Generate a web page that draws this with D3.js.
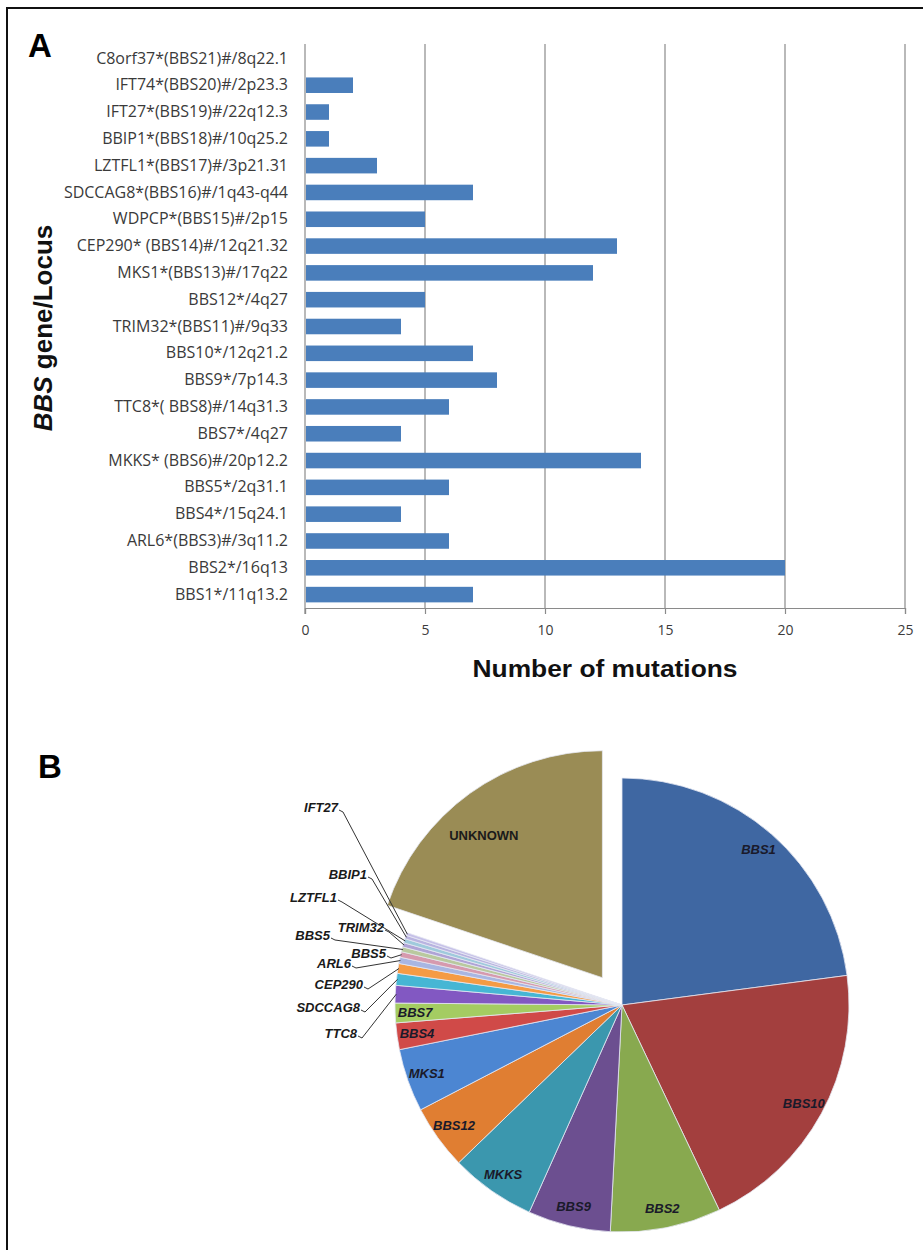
<!DOCTYPE html>
<html><head><meta charset="utf-8">
<script src="https://cdn.jsdelivr.net/npm/d3@7"></script>
<style>body{margin:0;background:#fff}svg{display:block}</style>
</head><body>
<script>
// ---- Panel A data ----
const categories = [
  "C8orf37*(BBS21)#/8q22.1","IFT74*(BBS20)#/2p23.3","IFT27*(BBS19)#/22q12.3",
  "BBIP1*(BBS18)#/10q25.2","LZTFL1*(BBS17)#/3p21.31","SDCCAG8*(BBS16)#/1q43-q44",
  "WDPCP*(BBS15)#/2p15","CEP290* (BBS14)#/12q21.32","MKS1*(BBS13)#/17q22",
  "BBS12*/4q27","TRIM32*(BBS11)#/9q33","BBS10*/12q21.2","BBS9*/7p14.3",
  "TTC8*( BBS8)#/14q31.3","BBS7*/4q27","MKKS* (BBS6)#/20p12.2","BBS5*/2q31.1",
  "BBS4*/15q24.1","ARL6*(BBS3)#/3q11.2","BBS2*/16q13","BBS1*/11q13.2"
];
const mutations = [0,2,1,1,3,7,5,13,12,5,4,7,8,6,4,14,6,4,6,20,7];
const xTicks = [0,5,10,15,20,25];

// ---- Panel B data (percent of cases) ----
const pieGenes = ["BBS1","BBS10","BBS2","BBS9","MKKS","BBS12","MKS1","BBS4","BBS7",
  "TTC8","SDCCAG8","CEP290","ARL6","BBS5","BBS5","TRIM32","LZTFL1","BBIP1","IFT27","UNKNOWN"];
const pieShares = [23.0,20.1,7.9,5.9,6.1,4.6,4.5,1.9,1.4,
  1.25,0.85,0.7,0.45,0.4,0.35,0.3,0.3,0.25,0.2,19.9];

// styles / layout
const pieColors = ["#3F67A2","#A33F3E","#88A94F","#6C4F90","#3B97AE","#E07E32","#4C86D2","#D04A48",
  "#A4CC62","#8258C2","#46B6D4","#F59B44","#A8B6E2","#D69AAE","#B9C99E","#AFA3D6","#9FCADC","#B9B3E0","#C6C0E8","#9A8C55"];
const insideLabel = new Set([0,1,2,3,4,5,6,7,8]);
// outside label anchors (text end x, baseline y), by slice index
const outsideLabels = [
  {i:9,  x:357, y:1038},
  {i:10, x:360, y:1012},
  {i:11, x:363, y:989},
  {i:12, x:351, y:968},
  {i:13, x:386, y:958},
  {i:14, x:330, y:940},
  {i:15, x:384, y:932},
  {i:16, x:337, y:902},
  {i:17, x:367, y:879},
  {i:18, x:338, y:812}
];

const W = 923, H = 1250;
const svg = d3.select("body").append("svg").attr("width", W).attr("height", H);

// frame (top + left)
svg.append("path").attr("d", `M7,${H} L7,8 L${W},8`).attr("fill","none").attr("stroke","#111").attr("stroke-width",2);

// ===== Panel A =====
svg.append("text").attr("x",28).attr("y",57).text("A")
  .attr("font-family","Liberation Sans, Arial, sans-serif").attr("font-weight","bold").attr("font-size",33);

const x = d3.scaleLinear().domain([0,25]).range([305,905]);
const y = d3.scaleBand().domain(categories).range([45,608]).paddingInner(0.42).paddingOuter(0.21);

const gA = svg.append("g");
// gridlines
gA.selectAll("line.grid").data(xTicks.filter(t=>t>0)).join("line")
  .attr("x1",d=>x(d)).attr("x2",d=>x(d)).attr("y1",44).attr("y2",608)
  .attr("stroke","#8a8a8a").attr("stroke-width",1.2);

// x axis
const xAxis = d3.axisBottom(x).tickValues(xTicks).tickSize(6).tickPadding(11);
const gx = gA.append("g").attr("transform","translate(0,608)").call(xAxis);
gx.select(".domain").attr("stroke","#8a8a8a").attr("stroke-width",1.2);
gx.selectAll(".tick line").attr("stroke","#8a8a8a").attr("stroke-width",1.2);
gx.selectAll(".tick text").attr("font-family","Open Sans, sans-serif").attr("font-size",14).attr("fill","#3c3c3c");

// y axis
const yAxis = d3.axisLeft(y).tickSize(0).tickPadding(17);
const gy = gA.append("g").attr("transform","translate(305,0)").call(yAxis);
gy.select(".domain").attr("stroke","#8a8a8a").attr("stroke-width",1.2).attr("d","M0,44V614");
gy.selectAll(".tick text").attr("font-family","Open Sans, sans-serif").attr("font-size",16).attr("fill","#3a3a3a");

// bars
gA.selectAll("rect.bar").data(categories).join("rect")
  .attr("x",x(0)+1).attr("y",d=>y(d))
  .attr("width",(d,i)=>Math.max(0,x(mutations[i])-x(0)-1))
  .attr("height",y.bandwidth()).attr("fill","#4A7EBB");

// axis titles
const yt = svg.append("text").attr("transform","translate(52,328) rotate(-90)")
  .attr("text-anchor","middle").attr("font-family","Liberation Sans, Arial, sans-serif")
  .attr("font-weight","bold").attr("font-size",26).attr("fill","#111");
yt.append("tspan").attr("font-style","italic").text("BBS");
yt.append("tspan").text(" gene/Locus");

svg.append("text").attr("x",605).attr("y",677).attr("text-anchor","middle")
  .attr("font-family","Liberation Sans, Arial, sans-serif").attr("font-weight","bold")
  .attr("font-size",23).attr("fill","#111").attr("textLength",265).attr("lengthAdjust","spacingAndGlyphs")
  .text("Number of mutations");

// ===== Panel B =====
svg.append("text").attr("x",38).attr("y",778).text("B")
  .attr("font-family","Liberation Sans, Arial, sans-serif").attr("font-weight","bold").attr("font-size",33);

const cx = 622, cy = 1005, R = 227;
const explode = 33.6;
const pie = d3.pie().sort(null).value(d=>d)(pieShares);
const arc = d3.arc().innerRadius(0).outerRadius(R);
const gB = svg.append("g").attr("transform",`translate(${cx},${cy})`);
const lastIdx = pieShares.length - 1;
function offset(d, k){
  if (d.index !== lastIdx) return [0,0];
  const m = (d.startAngle + d.endAngle)/2;
  return [Math.sin(m)*k, -Math.cos(m)*k];
}
gB.selectAll("path.slice").data(pie).join("path")
  .attr("d",arc)
  .attr("transform",d=>{const o=offset(d,explode);return `translate(${o[0]},${o[1]})`;})
  .attr("fill",(d,i)=>pieColors[i])
  .attr("stroke","#e6e8f2").attr("stroke-width",0.8);

// inside labels
const lblArc = d3.arc().innerRadius(207).outerRadius(207);
gB.selectAll("text.in").data(pie.filter(d=>insideLabel.has(d.index))).join("text")
  .attr("transform",d=>{const c=lblArc.centroid(d);return `translate(${c[0]},${c[1]+4.5})`;})
  .attr("text-anchor","middle").attr("font-family","Liberation Sans, Arial, sans-serif")
  .attr("font-weight","bold").attr("font-style","italic").attr("font-size",13).attr("fill","#1a1a2a")
  .text(d=>pieGenes[d.index]);

// UNKNOWN label
const u = pie[lastIdx];
const um = (u.startAngle+u.endAngle)/2 - 0.06;
gB.append("text")
  .attr("x",Math.sin(um)*219).attr("y",-Math.cos(um)*219+5)
  .attr("text-anchor","middle").attr("font-family","Liberation Sans, Arial, sans-serif")
  .attr("font-weight","bold").attr("font-size",13).attr("fill","#1a1a1a").text(pieGenes[lastIdx]);

// outside labels with leader lines
const gO = svg.append("g");
outsideLabels.forEach(o=>{
  const d = pie[o.i];
  const m = (d.startAngle+d.endAngle)/2;
  const ex = cx + Math.sin(m)*(R-1), ey = cy - Math.cos(m)*(R-1);
  gO.append("path")
    .attr("d",`M${o.x+1},${o.y-2} L${o.x+5},${o.y} L${ex},${ey}`)
    .attr("fill","none").attr("stroke","#333").attr("stroke-width",1);
  gO.append("text").attr("x",o.x).attr("y",o.y).attr("text-anchor","end")
    .attr("font-family","Liberation Sans, Arial, sans-serif").attr("font-weight","bold")
    .attr("font-style","italic").attr("font-size",13).attr("fill","#1a1a1a")
    .text(pieGenes[o.i]);
});
</script>
</body></html>
